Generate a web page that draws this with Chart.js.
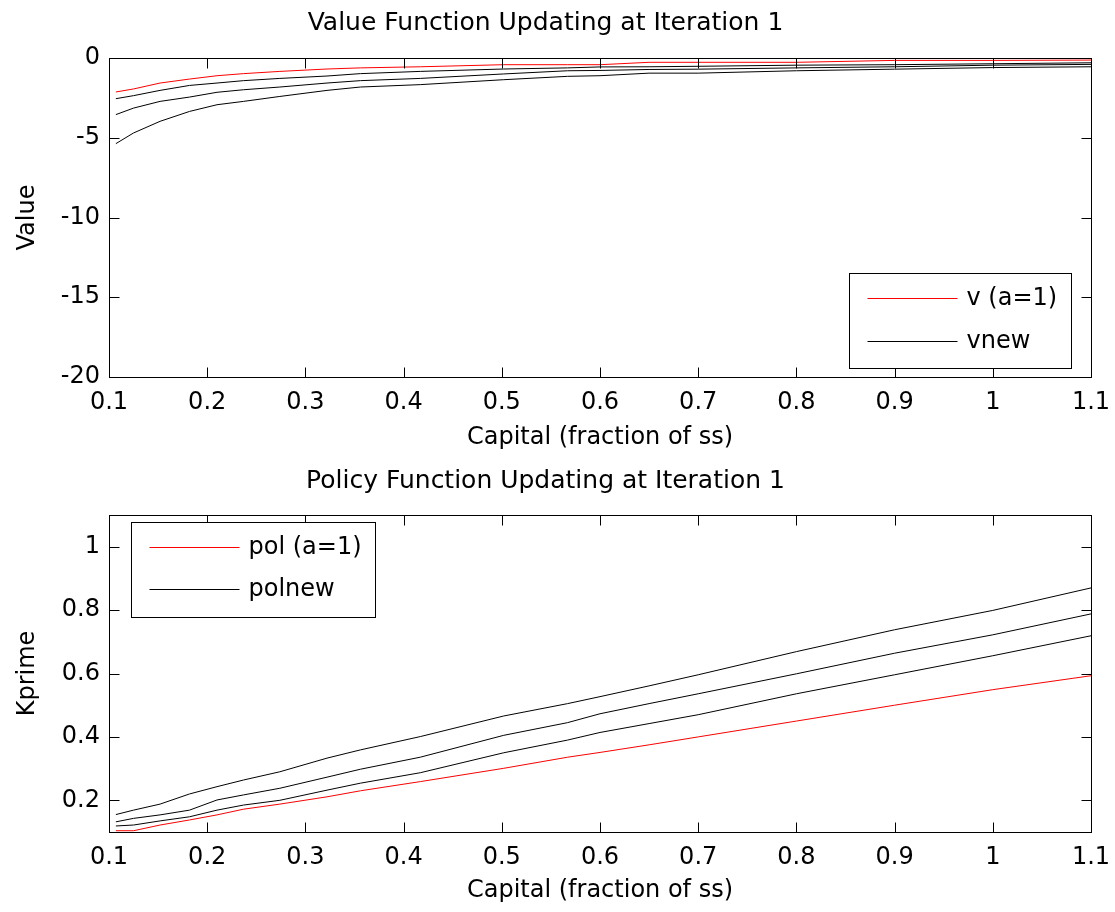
<!DOCTYPE html>
<html><head><meta charset="utf-8">
<script src="https://cdn.jsdelivr.net/npm/chart.js@4/dist/chart.umd.min.js"></script>
<style>
html,body{margin:0;padding:0;background:#fff;width:1115px;height:912px;overflow:hidden;}
canvas{display:block;position:absolute;left:0;}
#c1{top:0px}
#c2{top:456px}
</style>
</head><body>
<canvas id="c1" width="1115" height="456"></canvas>
<canvas id="c2" width="1115" height="456"></canvas>
<script>
// ---- data ----
const capital = [0.107, 0.125, 0.152, 0.182, 0.21, 0.237, 0.274, 0.322, 0.356, 0.417, 0.502, 0.567, 0.6, 0.65, 0.7, 0.8, 0.9, 1.0, 1.1];
const vOld  = [-2.13, -1.94, -1.57, -1.32, -1.11, -0.98, -0.84, -0.69, -0.62, -0.55, -0.42, -0.42, -0.42, -0.27, -0.27, -0.27, -0.15, -0.15, -0.13];
const vNew1 = [-2.55, -2.36, -2.03, -1.72, -1.57, -1.42, -1.28, -1.13, -0.98, -0.84, -0.69, -0.62, -0.56, -0.55, -0.52, -0.45, -0.42, -0.36, -0.30];
const vNew2 = [-3.55, -3.14, -2.72, -2.45, -2.15, -1.99, -1.82, -1.57, -1.42, -1.28, -1.00, -0.80, -0.78, -0.72, -0.70, -0.62, -0.55, -0.45, -0.40];
const vNew3 = [-5.37, -4.70, -3.97, -3.35, -2.93, -2.72, -2.41, -2.03, -1.82, -1.67, -1.36, -1.15, -1.11, -0.95, -0.95, -0.80, -0.70, -0.60, -0.55];
const polOld  = [0.104, 0.104, 0.122, 0.138, 0.154, 0.172, 0.188, 0.211, 0.230, 0.259, 0.301, 0.336, 0.351, 0.375, 0.400, 0.450, 0.500, 0.549, 0.593];
const polNew1 = [0.119, 0.122, 0.135, 0.148, 0.169, 0.185, 0.200, 0.232, 0.254, 0.287, 0.350, 0.390, 0.414, 0.442, 0.470, 0.536, 0.596, 0.656, 0.719];
const polNew2 = [0.132, 0.143, 0.154, 0.169, 0.201, 0.217, 0.238, 0.273, 0.298, 0.336, 0.405, 0.445, 0.473, 0.505, 0.536, 0.599, 0.664, 0.722, 0.788];
const polNew3 = [0.155, 0.169, 0.188, 0.220, 0.243, 0.264, 0.290, 0.333, 0.359, 0.401, 0.466, 0.505, 0.527, 0.561, 0.596, 0.669, 0.738, 0.799, 0.870];

const xTicks = [0.1, 0.2, 0.3, 0.4, 0.5, 0.6, 0.7, 0.8, 0.9, 1.0, 1.1];
const xTickLabels = ['0.1', '0.2', '0.3', '0.4', '0.5', '0.6', '0.7', '0.8', '0.9', '1', '1.1'];
const vTicks = [-20, -15, -10, -5, 0];
const vTickLabels = ['-20', '-15', '-10', '-5', '0'];
const polTicks = [0.2, 0.4, 0.6, 0.8, 1.0];
const polTickLabels = ['0.2', '0.4', '0.6', '0.8', '1'];

const FONT = "'DejaVu Sans', sans-serif";

// MATLAB-style box with inward ticks on all four sides
const matlabFrame = {
  id: 'matlabFrame',
  afterDatasetsDraw(chart) {
    const {ctx, chartArea: a, scales: {x, y}} = chart;
    const L = 10;
    ctx.save();
    ctx.strokeStyle = '#000';
    ctx.lineWidth = 1;
    ctx.beginPath();
    const t = Math.round(a.top) + 0.5, b = Math.round(a.bottom) + 0.5;
    const l = Math.round(a.left) + 0.5, r = Math.round(a.right) + 0.5;
    x.ticks.forEach(tk => {
      const px = Math.round(x.getPixelForValue(tk.value)) + 0.5;
      ctx.moveTo(px, b); ctx.lineTo(px, b - L);
      ctx.moveTo(px, t); ctx.lineTo(px, t + L);
    });
    y.ticks.forEach(tk => {
      const py = Math.round(y.getPixelForValue(tk.value)) + 0.5;
      ctx.moveTo(l, py); ctx.lineTo(l + L, py);
      ctx.moveTo(r, py); ctx.lineTo(r - L, py);
    });
    ctx.stroke();
    ctx.strokeRect(l, t, r - l, b - t);
    ctx.restore();
  }
};

// boxed legend placed inside the axes
const boxLegend = {
  id: 'boxLegend',
  afterDraw(chart, args, o) {
    const {ctx, chartArea: a} = chart;
    const items = chart.data.datasets.slice(0, o.count);
    ctx.save();
    ctx.font = '24px ' + FONT;
    const tw = Math.max(...items.map(d => ctx.measureText(d.label).width));
    const w = Math.round(o.textX + tw + o.padRight);
    const h = o.height;
    let left, top;
    if (o.corner === 'br') { left = a.right - o.dx - w; top = a.bottom - o.dy - h; }
    else { left = a.left + o.dx; top = a.top + o.dy; }
    left = Math.round(left) + 0.5; top = Math.round(top) + 0.5;
    ctx.fillStyle = '#fff';
    ctx.fillRect(left, top, w, h);
    ctx.strokeStyle = '#000';
    ctx.lineWidth = 1;
    ctx.strokeRect(left, top, w, h);
    items.forEach((d, i) => {
      const yy = Math.floor(top + o.firstY + i * o.rowGap) + 0.5;
      ctx.beginPath();
      ctx.strokeStyle = d.borderColor;
      ctx.lineWidth = 1;
      ctx.moveTo(left + o.lineX0, yy);
      ctx.lineTo(left + o.lineX1, yy);
      ctx.stroke();
      ctx.fillStyle = '#000';
      ctx.textBaseline = 'middle';
      ctx.textAlign = 'left';
      ctx.fillText(d.label, left + o.textX, yy);
    });
    ctx.restore();
  }
};

function series(ys, label, color) {
  return {
    label: label,
    data: capital.map((c, i) => ({x: c, y: ys[i]})),
    borderColor: color,
    backgroundColor: color,
    borderWidth: 1,
    pointRadius: 0,
    tension: 0,
    fill: false
  };
}

function makeChart(id, cfg) {
  const font = {family: FONT, size: 24};
  return new Chart(document.getElementById(id), {
    type: 'line',
    data: {datasets: cfg.datasets},
    options: {
      responsive: false,
      animation: false,
      devicePixelRatio: 1,
      layout: {padding: {left: 0, right: 24, top: 0, bottom: 0}},
      plugins: {
        legend: {display: false},
        tooltip: {enabled: false},
        title: {
          display: true, text: cfg.title, color: '#000',
          font: {family: FONT, size: 25, weight: 'normal', lineHeight: 1.2},
          padding: cfg.titlePad
        },
        boxLegend: cfg.legend
      },
      scales: {
        x: {
          type: 'linear', min: 0.1, max: 1.1,
          afterBuildTicks: s => { s.ticks = xTicks.map(v => ({value: v})); },
          afterFit: s => { s.height = cfg.xHeight; },
          ticks: {font, color: '#000', padding: 0, maxRotation: 0, autoSkip: false,
                  callback: (v, i) => xTickLabels[i]},
          grid: {display: false, drawTicks: true, tickLength: 11},
          border: {display: false},
          title: {display: true, text: 'Capital (fraction of ss)', color: '#000', font,
                  padding: {top: 0, bottom: cfg.xTitlePad}}
        },
        y: {
          type: 'linear', min: cfg.yMin, max: cfg.yMax,
          afterBuildTicks: s => { s.ticks = cfg.yTicks.map(v => ({value: v})); },
          afterFit: s => { s.width = 109; },
          ticks: {font, color: '#000', padding: 9, autoSkip: false,
                  callback: (v, i) => cfg.yTickLabels[i]},
          grid: {display: false, drawTicks: false},
          border: {display: false},
          title: {display: true, text: cfg.yTitle, color: '#000', font,
                  padding: {top: 13, bottom: 0}}
        }
      }
    },
    plugins: [matlabFrame, boxLegend]
  });
}

makeChart('c1', {
  title: 'Value Function Updating at Iteration 1',
  titlePad: {top: 8, bottom: 20},
  yTitle: 'Value',
  yMin: -20, yMax: 0, yTicks: vTicks, yTickLabels: vTickLabels,
  xHeight: 79, xTitlePad: 4,
  datasets: [
    series(vOld, 'v (a=1)', '#ff0000'),
    series(vNew1, 'vnew', '#000000'),
    series(vNew2, 'vnew (2)', '#000000'),
    series(vNew3, 'vnew (3)', '#000000')
  ],
  legend: {count: 2, corner: 'br', dx: 20, dy: 9, height: 95, firstY: 25, rowGap: 42.5,
           lineX0: 18, lineX1: 108, textX: 117, padRight: 14}
});

makeChart('c2', {
  title: 'Policy Function Updating at Iteration 1',
  titlePad: {top: 10, bottom: 19},
  yTitle: 'Kprime',
  yMin: 0.1, yMax: 1.1, yTicks: polTicks, yTickLabels: polTickLabels,
  xHeight: 80, xTitlePad: 7,
  datasets: [
    series(polOld, 'pol (a=1)', '#ff0000'),
    series(polNew1, 'polnew', '#000000'),
    series(polNew2, 'polnew (2)', '#000000'),
    series(polNew3, 'polnew (3)', '#000000')
  ],
  legend: {count: 2, corner: 'tl', dx: 22, dy: 7, height: 95, firstY: 25, rowGap: 42,
           lineX0: 18, lineX1: 108, textX: 117, padRight: 14}
});
</script>
</body></html>
